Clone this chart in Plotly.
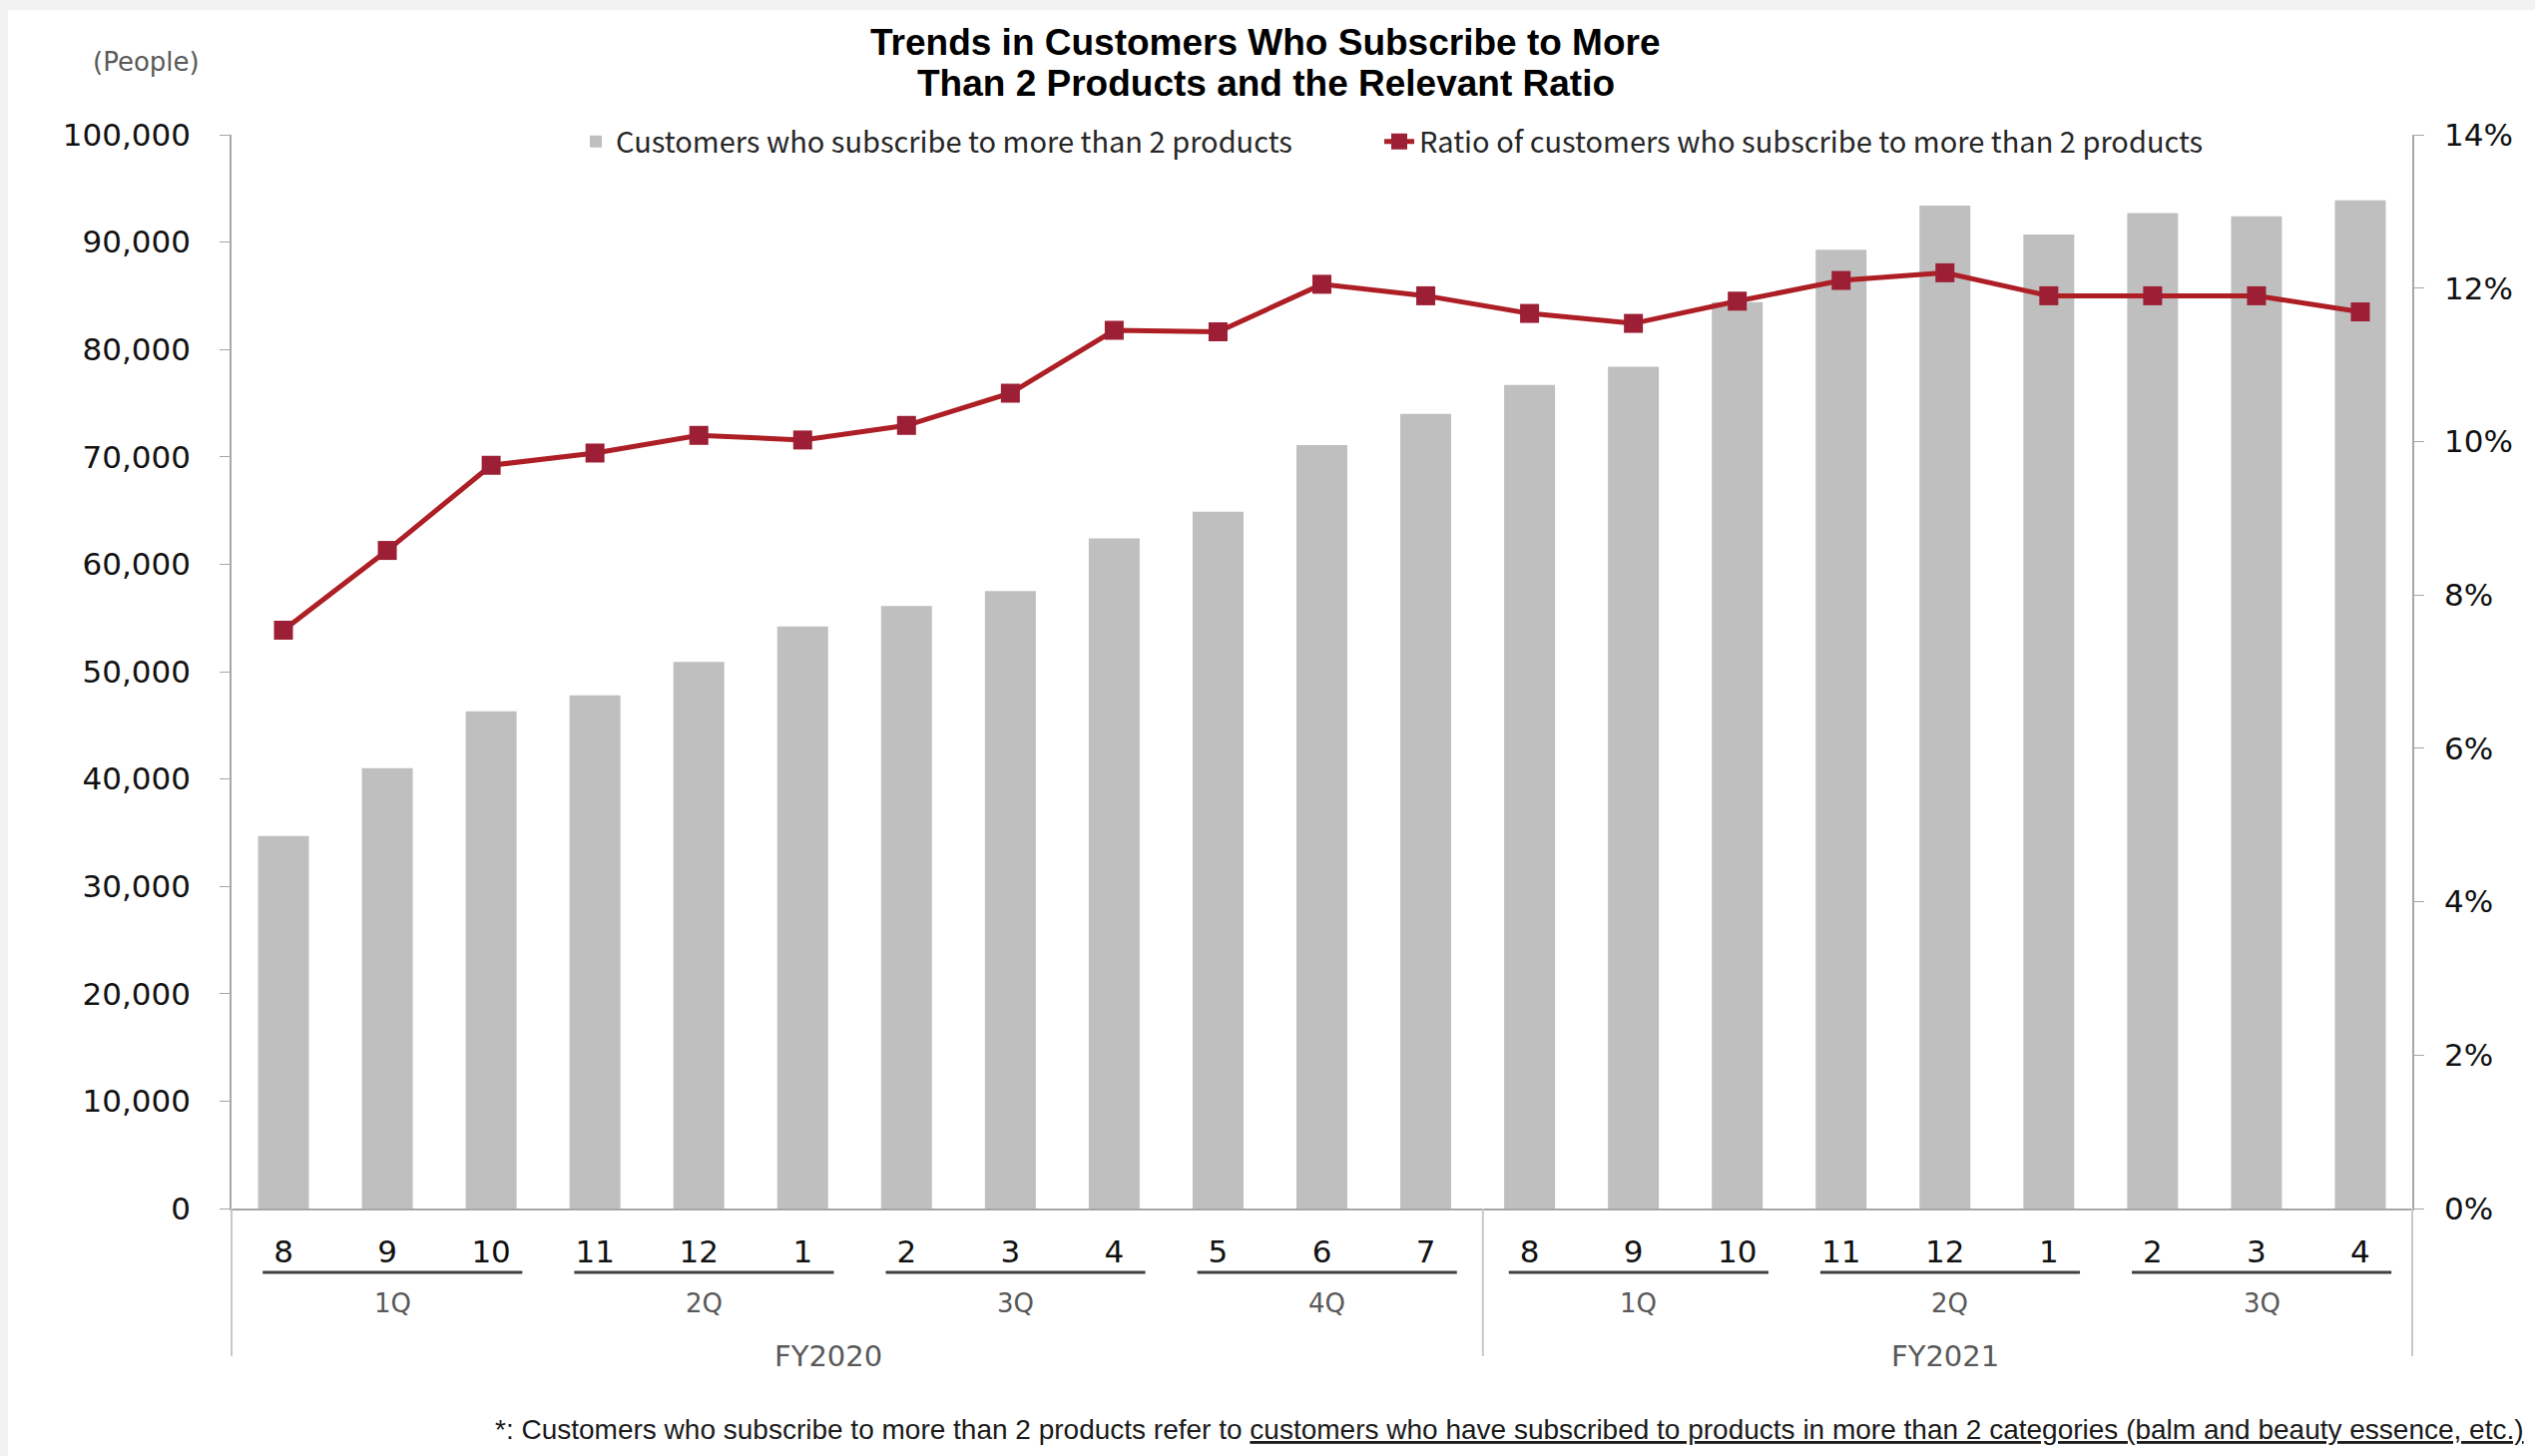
import plotly.graph_objects as go

# ---- data ----
months = ["8", "9", "10", "11", "12", "1", "2", "3", "4", "5", "6", "7",
          "8", "9", "10", "11", "12", "1", "2", "3", "4"]
customers = [34700, 41000, 46300, 47800, 50900, 54200, 56100, 57500, 62400, 64900, 71100, 74000,
             76700, 78400, 84400, 89300, 93400, 90700, 92700, 92400, 93900]
ratio = [0.0754, 0.0858, 0.0969, 0.0985, 0.1008, 0.1002, 0.1021, 0.1063, 0.1145, 0.1143, 0.1205, 0.1190,
         0.1167, 0.1154, 0.1183, 0.1210, 0.1220, 0.1190, 0.1190, 0.1190, 0.1169]
quarters = ["1Q", "2Q", "3Q", "4Q", "1Q", "2Q", "3Q"]
fiscal_years = ["FY2020", "FY2021"]
fy_centers = [5.25, 16.0]
fy_divider = 11.55

W, H = 2540, 1459
L, R, T, B = 232, 123, 135, 248
PW, PH = W - L - R, H - T - B


def px_x(px):
    return (px - L) / PW


def px_y(py):
    return (H - B - py) / PH


x = list(range(len(months)))
TICK_FONT = dict(family="DejaVu Sans", size=31, color="#111111")
GRAY_TXT = "#595959"
AXIS_GRAY = "#a6a6a6"
LIGHT_GRAY = "#c8c8c8"
LEGEND_FONT = dict(family="Noto Sans CJK JP", size=29, color="#262626")

fig = go.Figure()
fig.add_trace(go.Bar(
    x=x, y=customers, name="Customers who subscribe to more than 2 products",
    marker=dict(color="#bfbfbf", line=dict(width=0)), width=0.49, legend="legend",
))
fig.add_trace(go.Scatter(
    x=x, y=ratio, name="Ratio of customers who subscribe to more than 2 products",
    yaxis="y2", mode="lines+markers", legend="legend2",
    line=dict(color="#ad1e25", width=5),
    marker=dict(symbol="square", size=19, color="#9c1f35"),
))

shapes = []
annotations = []

# quarter underlines and labels
for qi, q in enumerate(quarters):
    first, last = 3 * qi, 3 * qi + 2
    shapes.append(dict(type="line", xref="x", yref="paper",
                       x0=first - 0.2, x1=last + 0.3, y0=px_y(1275), y1=px_y(1275),
                       line=dict(color="#404040", width=3)))
    annotations.append(dict(text=q, xref="x", yref="paper", x=first + 1.05, y=px_y(1306),
                            showarrow=False, xanchor="center", yanchor="middle",
                            font=dict(family="DejaVu Sans", size=26, color=GRAY_TXT)))

# fiscal-year labels
for fy, cx in zip(fiscal_years, fy_centers):
    annotations.append(dict(text=fy, xref="x", yref="paper", x=cx, y=px_y(1359),
                            showarrow=False, xanchor="center", yanchor="middle",
                            font=dict(family="DejaVu Sans", size=29, color=GRAY_TXT)))

# axis extensions below the plot and FY divider
for xr, xv in (("paper", 0), ("paper", 1), ("x", fy_divider)):
    shapes.append(dict(type="line", xref=xr, yref="paper", x0=xv, x1=xv,
                       y0=0, y1=px_y(1359), line=dict(color=LIGHT_GRAY, width=2)))

# page frame strips
shapes.append(dict(type="rect", xref="paper", yref="paper", x0=px_x(0), x1=px_x(W),
                   y0=px_y(0), y1=px_y(10), fillcolor="#f2f2f2", line=dict(width=0), layer="below"))
shapes.append(dict(type="rect", xref="paper", yref="paper", x0=px_x(0), x1=px_x(8),
                   y0=px_y(0), y1=px_y(H), fillcolor="#f2f2f2", line=dict(width=0), layer="below"))

# title
title_font = dict(family="Liberation Sans", size=37, color="#000000")
annotations.append(dict(text="<b>Trends in Customers Who Subscribe to More</b>", xref="paper", yref="paper",
                        x=px_x(1268), y=px_y(42), showarrow=False, xanchor="center", yanchor="middle",
                        font=title_font))
annotations.append(dict(text="<b>Than 2 Products and the Relevant Ratio</b>", xref="paper", yref="paper",
                        x=px_x(1268), y=px_y(84), showarrow=False, xanchor="center", yanchor="middle",
                        font=title_font))

# unit label
annotations.append(dict(text="(People)", xref="paper", yref="paper", x=px_x(146), y=px_y(62),
                        showarrow=False, xanchor="center", yanchor="middle",
                        font=dict(family="DejaVu Sans", size=26, color=GRAY_TXT)))

# footnote
annotations.append(dict(
    text="*: Customers who subscribe to more than 2 products refer to "
         "<u>customers who have subscribed to products in more than 2 categories (balm and beauty essence, etc.)</u>",
    xref="paper", yref="paper", x=px_x(2531), y=px_y(1432), showarrow=False,
    xanchor="right", yanchor="middle",
    font=dict(family="Liberation Sans", size=28, color="#1a1a1a")))

legend_common = dict(orientation="h", xanchor="left", yanchor="middle", y=px_y(142),
                     bgcolor="rgba(0,0,0,0)", font=LEGEND_FONT)

fig.update_layout(
    width=W, height=H,
    margin=dict(l=L, r=R, t=T, b=B, pad=0),
    paper_bgcolor="white", plot_bgcolor="white",
    showlegend=True,
    legend=dict(x=px_x(577), **legend_common),
    legend2=dict(x=px_x(1382), **legend_common),
    xaxis=dict(range=[-0.5, len(months) - 0.5], tickmode="array", tickvals=x, ticktext=months,
               showgrid=False, zeroline=False, showline=True, linecolor=AXIS_GRAY, linewidth=2,
               ticks="", tickfont=TICK_FONT, ticklabelstandoff=15),
    yaxis=dict(range=[0, 100000], dtick=10000, tickformat=",d", showgrid=False, zeroline=False,
               showline=True, linecolor=AXIS_GRAY, linewidth=1.5, ticks="outside", ticklen=10,
               tickcolor=AXIS_GRAY, tickfont=TICK_FONT, ticklabelstandoff=23),
    yaxis2=dict(range=[0, 0.14], dtick=0.02, tickformat=".0%", overlaying="y", side="right",
                showgrid=False, zeroline=False, showline=True, linecolor=AXIS_GRAY, linewidth=1.5,
                ticks="outside", ticklen=10, tickcolor=AXIS_GRAY, tickfont=TICK_FONT,
                ticklabelstandoff=14),
    shapes=shapes,
    annotations=annotations,
)

fig.write_html("out.html")
